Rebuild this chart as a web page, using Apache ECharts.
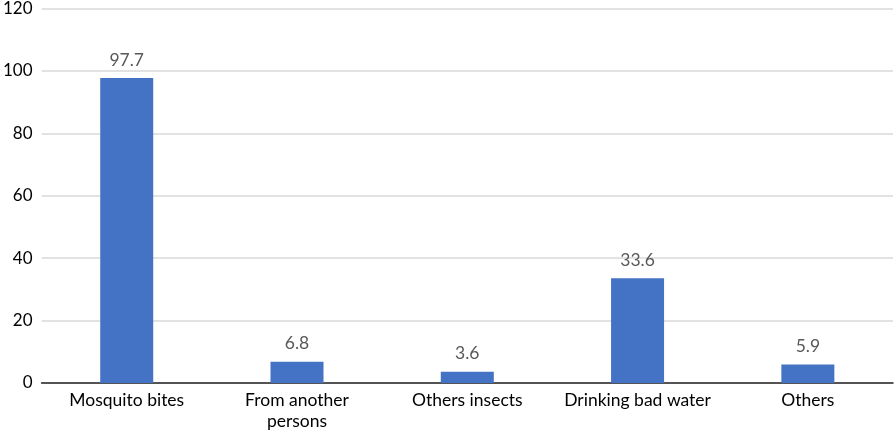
<!DOCTYPE html>
<html><head><meta charset="utf-8">
<script src="https://cdn.jsdelivr.net/npm/echarts@6/dist/echarts.min.js"></script>
<style>html,body{margin:0;padding:0;background:#fff}#c{width:895px;height:434px}</style>
</head><body><div id="c"></div>
<script>
const categories = ["Mosquito bites", "From another\npersons", "Others insects", "Drinking bad water", "Others"];
const values = [97.7, 6.8, 3.6, 33.6, 5.9];
const yTicks = {min: 0, max: 120, interval: 20};
const FONT = "Lato";
const chart = echarts.init(document.getElementById('c'), null, {renderer: 'canvas'});
chart.setOption({
  animation: false,
  backgroundColor: '#fff',
  grid: {left: 38, right: 2, top: 8, bottom: 51, containLabel: false},
  xAxis: {
    type: 'category', data: categories,
    axisLine: {lineStyle: {color: '#262626', width: 1.5}},
    axisTick: {show: false},
    axisLabel: {fontFamily: FONT, fontSize: 17.5, color: '#000', margin: 7, lineHeight: 21, interval: 0}
  },
  yAxis: {
    type: 'value', min: yTicks.min, max: yTicks.max, interval: yTicks.interval,
    axisLine: {show: false}, axisTick: {show: false},
    splitLine: {lineStyle: {color: '#d9d9d9', width: 1.5}},
    axisLabel: {fontFamily: FONT, fontSize: 17, color: '#000', margin: 9}
  },
  series: [{
    type: 'bar', data: values, barWidth: 53,
    itemStyle: {color: '#4472C4'},
    label: {show: true, position: 'top', distance: 9, fontFamily: FONT, fontSize: 17.5, color: '#595959',
      formatter: p => p.value.toFixed(1)}
  }]
});
</script></body></html>
